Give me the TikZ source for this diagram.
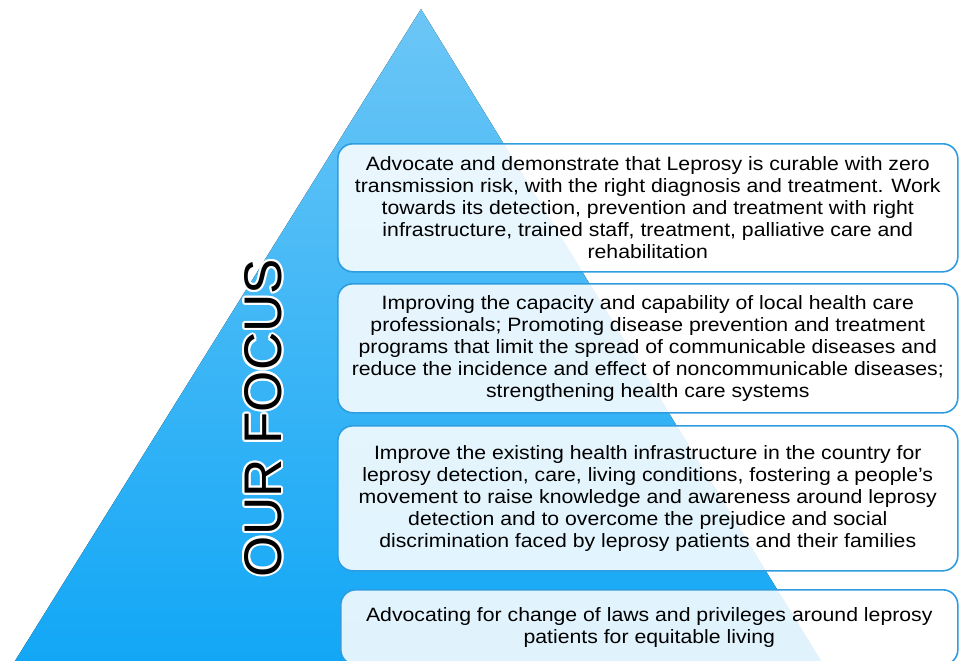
\documentclass[tikz,border=0pt]{standalone}
\usepackage{fontspec}
\setmainfont{Liberation Sans}
\newfontfamily\panelfont[FakeStretch=1.1,Ligatures=TeX]{Liberation Sans}
\definecolor{tritop}{HTML}{6CC6F6}
\definecolor{tribot}{HTML}{12A7F6}
\definecolor{boxline}{HTML}{2E9DE0}
\tikzset{
  panel/.style={draw=boxline, line width=1.6pt, rounded corners=15pt,
    fill=white, fill opacity=0.87, text opacity=1, anchor=north west,
    minimum width=620pt, align=center, inner sep=0pt,
    font=\panelfont\fontsize{19.3}{22}\selectfont},
  halo/.style={white, font=\fontsize{53}{53}\selectfont, rotate=90},
}
\begin{document}
\begin{tikzpicture}[x=1pt,y=-1pt]
\useasboundingbox (0,0) rectangle (959,661);
\fill[top color=tritop, bottom color=tribot] (421,9) -- (821,661) -- (15,661) -- cycle;
% title with white halo
\foreach \a in {0,30,...,330}{
  \node[halo] at ([shift={(\a:2.2)}]263,418) {OUR FOCUS};
}
\node[halo, text=black] (title) at (263,418) {OUR FOCUS};
% panels
\node[panel, minimum height=128pt] (b1) at (337,143) {Advocate and demonstrate that Leprosy is curable with zero\\transmission risk, with the right diagnosis and treatment. Work\\towards its detection, prevention and treatment with right\\infrastructure, trained staff, treatment, palliative care and\\rehabilitation};
\node[panel, minimum height=129pt] (b2) at (337,283) {Improving the capacity and capability of local health care\\professionals; Promoting disease prevention and treatment\\programs that limit the spread of communicable diseases and\\reduce the incidence and effect of noncommunicable diseases;\\strengthening health care systems};
\node[panel, minimum height=145pt] (b3) at (337,425) {Improve the existing health infrastructure in the country for\\leprosy detection, care, living conditions, fostering a people’s\\movement to raise knowledge and awareness around leprosy\\detection and to overcome the prejudice and social\\discrimination faced by leprosy patients and their families};
\node[panel, minimum height=75pt, minimum width=617pt] (b4) at (340,589) {Advocating for change of laws and privileges around leprosy\\patients for equitable living};
\end{tikzpicture}
\end{document}
